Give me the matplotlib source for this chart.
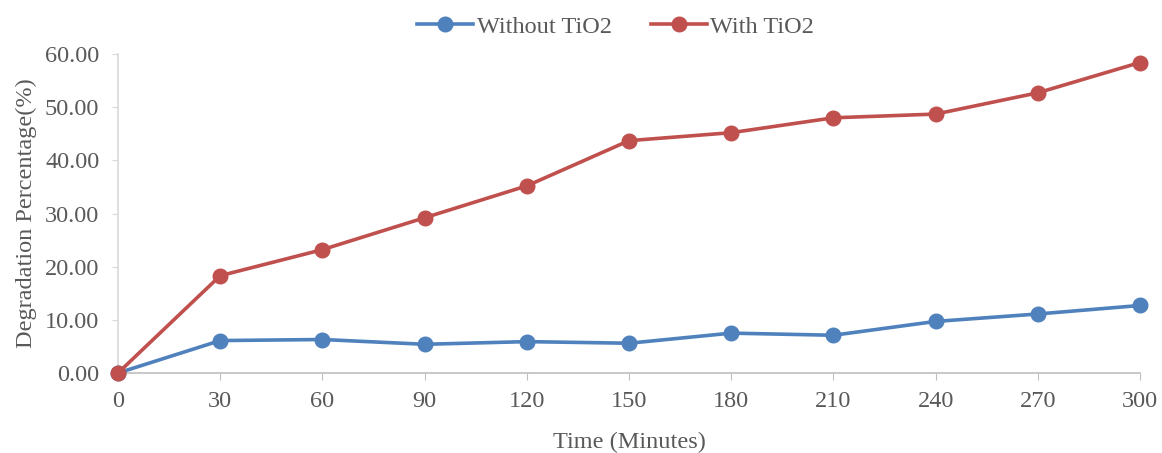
import matplotlib
matplotlib.use("Agg")
import matplotlib.pyplot as plt

time_min = [0, 30, 60, 90, 120, 150, 180, 210, 240, 270, 300]
without_tio2 = [0.0, 6.1, 6.3, 5.4, 5.9, 5.6, 7.5, 7.1, 9.7, 11.1, 12.7]
with_tio2 = [0.0, 18.3, 23.2, 29.2, 35.2, 43.7, 45.2, 48.0, 48.7, 52.7, 58.4]
y_ticks = [0, 10, 20, 30, 40, 50, 60]

plt.rcParams['font.family'] = ['Liberation Serif', 'DejaVu Serif']
text_color = '#595959'

fig = plt.figure(figsize=(11.62, 4.53), dpi=100)
ax = fig.add_axes([118/1162, 1 - 373/453, (1140-118)/1162, (373-54)/453])

ax.plot(time_min, without_tio2, color='#4F81BD', lw=2.6, marker='o', ms=10.5,
        label='Without TiO2', clip_on=False, zorder=3)
ax.plot(time_min, with_tio2, color='#C0504D', lw=2.6, marker='o', ms=10.5,
        label='With TiO2', clip_on=False, zorder=4)

ax.set_xlim(0, 300)
ax.set_ylim(0, 60)
ax.set_xticks(time_min)
ax.set_yticks(y_ticks)
ax.set_yticklabels([f"{v:.2f}" for v in y_ticks])

for s in ['top', 'right']:
    ax.spines[s].set_visible(False)
ax.spines['left'].set_color('#D9D9D9')
ax.spines['bottom'].set_color('#BFBFBF')
ax.spines['left'].set_linewidth(1.2)
ax.spines['bottom'].set_linewidth(1.2)

ax.tick_params(axis='y', length=4.5, direction='out', color='#D9D9D9',
               labelsize=17.5, labelcolor=text_color, pad=9)
ax.tick_params(axis='x', length=5, direction='out', color='#BFBFBF',
               labelsize=17.5, labelcolor=text_color, pad=8)

ax.set_xlabel('Time (Minutes)', fontsize=17.5, color=text_color, labelpad=14)
ax.set_ylabel('Degradation Percentage(%)', fontsize=17.5, color=text_color, labelpad=6)

leg = fig.legend(loc='upper center', bbox_to_anchor=(0.530, 1.013), ncol=2,
                 frameon=False, fontsize=17.5, handlelength=2.3,
                 columnspacing=1.6, handletextpad=0.15)
for t in leg.get_texts():
    t.set_color(text_color)

fig.savefig('out.png', dpi=100)
